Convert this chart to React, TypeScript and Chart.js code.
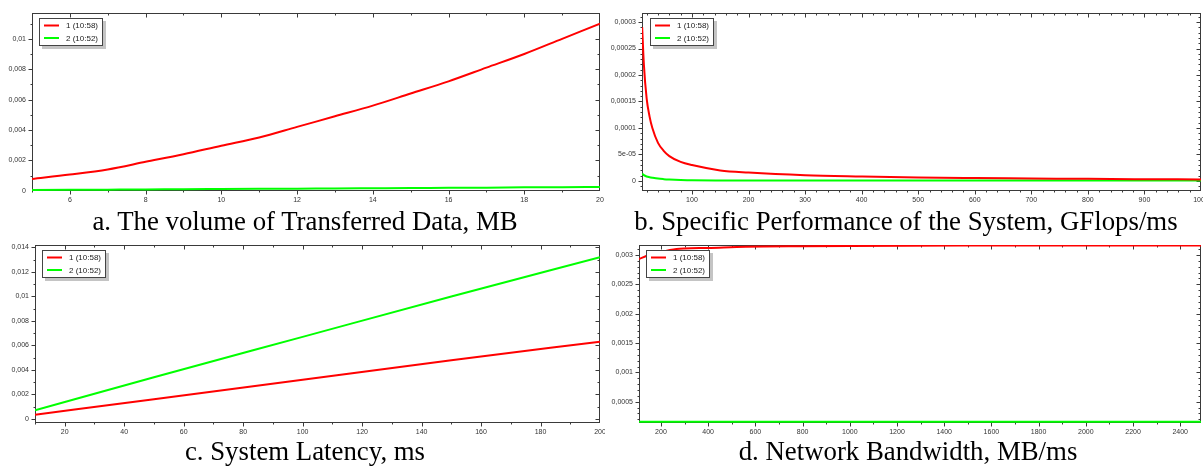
import React, { useEffect, useRef } from 'react';
import { Chart, registerables } from 'chart.js';

Chart.register(...registerables);

const SERIES1 = '1 (10:58)';
const SERIES2 = '2 (10:52)';

// a. The volume of Transferred Data, MB
const aX = [5, 6, 7, 8, 9, 10, 11, 12, 13, 14, 15, 16, 17, 18, 19, 20];
const aRed = [0.00077, 0.00106, 0.0014, 0.0019, 0.0024, 0.00296, 0.0035, 0.0042, 0.0049, 0.0056, 0.0064, 0.0072, 0.0081, 0.009, 0.01, 0.011];
const aGreen = [0.00005, 0.00006, 0.00007, 0.00008, 0.0001, 0.00011, 0.00012, 0.00013, 0.00015, 0.00016, 0.00017, 0.00019, 0.0002, 0.00022, 0.00023, 0.00025];
const aXTicks = [6, 8, 10, 12, 14, 16, 18, 20];
const aYTicks = [0, 0.002, 0.004, 0.006, 0.008, 0.01];

// b. Specific Performance of the System, GFlops/ms
const bX = [12, 15, 20, 25, 30, 40, 50, 60, 80, 100, 150, 200, 300, 400, 500, 600, 700, 800, 900, 1000];
const bRed = [0.00029, 0.00022, 0.000155, 0.000122, 0.0001, 0.000072, 0.000057, 0.000047, 0.000036, 0.00003, 0.00002, 0.000016, 0.000011, 0.0000085, 0.0000065, 0.0000055, 0.0000048, 0.0000040, 0.0000034, 0.0000029];
const bGreen = [0.000014, 0.000011, 0.0000085, 0.0000072, 0.0000062, 0.0000045, 0.0000035, 0.0000028, 0.0000018, 0.0000012, 0.000001, 0.000001, 0.000001, 0.000001, 0.000001, 0.000001, 0.000001, 0.000001, 0.000001, 0.000001];
const bXTicks = [100, 200, 300, 400, 500, 600, 700, 800, 900, 1000];
const bYTicks = [0, 0.00005, 0.0001, 0.00015, 0.0002, 0.00025, 0.0003];

// c. System Latency, ms
const cX = [10, 50, 100, 150, 200];
const cRed = [0.00035, 0.0016, 0.0032, 0.0048, 0.0063];
const cGreen = [0.0007, 0.0034, 0.0067, 0.01, 0.0132];
const cXTicks = [20, 40, 60, 80, 100, 120, 140, 160, 180, 200];
const cYTicks = [0, 0.002, 0.004, 0.006, 0.008, 0.01, 0.012, 0.014];

// d. Network Bandwidth, MB/ms
const dX = [107, 150, 200, 266, 300, 400, 560, 800, 1000, 1500, 2000, 2488];
const dRed = [0.00293, 0.003, 0.00305, 0.0031, 0.00311, 0.00312, 0.00314, 0.00315, 0.003155, 0.00316, 0.00316, 0.00316];
const dGreen = [0.00016, 0.00016, 0.00016, 0.00016, 0.00016, 0.00016, 0.00016, 0.00016, 0.00016, 0.00016, 0.00016, 0.00016];
const dXTicks = [200, 400, 600, 800, 1000, 1200, 1400, 1600, 1800, 2000, 2200, 2400];
const dYTicks = [0.0005, 0.001, 0.0015, 0.002, 0.0025, 0.003];

const captions = [
  'a. The volume of Transferred Data, MB',
  'b. Specific Performance of the System, GFlops/ms',
  'c. System Latency, ms',
  'd. Network Bandwidth, MB/ms',
];

const RED = '#ff0000';
const GREEN = '#00ff00';
const SANS = '"Liberation Sans", Arial, sans-serif';

function fmt(v: number): string {
  if (Math.abs(v) < 1e-12) return '0';
  if (Math.abs(v) < 1e-4) {
    const s = v.toExponential().replace('+', '');
    return s.replace(/e(-?)(\d)$/, 'e$10$2');
  }
  return String(parseFloat(v.toPrecision(10))).replace('.', ',');
}

function minorValues(min: number, max: number, majors: number[], n: number): number[] {
  if (majors.length < 2) return [];
  const step = majors[1] - majors[0];
  const ms = step / n;
  const out: number[] = [];
  let k = Math.ceil(min / ms - 1e-9);
  for (; k * ms <= max + ms * 1e-6; k++) {
    const v = k * ms;
    const r = v / step;
    if (Math.abs(r - Math.round(r)) < 1e-6) continue;
    out.push(v);
  }
  return out;
}

const framePlugin = {
  id: 'frame',
  beforeDatasetsDraw(chart: any, _args: any, o: any) {
    const { ctx, chartArea: ca, scales } = chart;
    const xs = scales.x;
    const ys = scales.y;
    ctx.save();
    ctx.strokeStyle = '#3a3a3a';
    ctx.lineWidth = 1;
    const L = Math.round(ca.left) + 0.5;
    const R = Math.round(ca.right) - 0.5;
    const T = Math.round(ca.top) + 0.5;
    const B = Math.round(ca.bottom) - 0.5;
    ctx.strokeRect(L, T, R - L, B - T);

    const xMaj = xs.ticks.map((t: any) => t.value);
    const yMaj = ys.ticks.map((t: any) => t.value);
    const xMin = minorValues(xs.min, xs.max, xMaj, o.xMinor);
    const yMin = minorValues(ys.min, ys.max, yMaj, o.yMinor);

    ctx.beginPath();
    const xt = (v: number, len: number) => {
      const p = Math.round(xs.getPixelForValue(v)) + 0.5;
      if (p < L - 0.1 || p > R + 0.6) return;
      ctx.moveTo(p, B); ctx.lineTo(p, B + len);
      ctx.moveTo(p, T); ctx.lineTo(p, T + len);
    };
    const yt = (v: number, len: number) => {
      const p = Math.round(ys.getPixelForValue(v)) + 0.5;
      if (p < T - 0.1 || p > B + 0.6) return;
      ctx.moveTo(L, p); ctx.lineTo(L - len, p);
      ctx.moveTo(R, p); ctx.lineTo(R - len, p);
    };
    xMaj.forEach((v: number) => xt(v, 4));
    xMin.forEach((v: number) => xt(v, 2));
    yMaj.forEach((v: number) => yt(v, 4));
    yMin.forEach((v: number) => yt(v, 2));
    ctx.stroke();
    ctx.restore();
  },
  afterDatasetsDraw(chart: any, _args: any, o: any) {
    const { ctx, chartArea: ca } = chart;
    ctx.save();
    const bx = Math.round(ca.left) + o.legendDx;
    const by = Math.round(ca.top) + 5;
    const bw = 64;
    const bh = 28;
    ctx.fillStyle = '#c4c4c4';
    ctx.fillRect(bx + 3, by + 3, bw, bh);
    ctx.fillStyle = '#ffffff';
    ctx.fillRect(bx, by, bw, bh);
    ctx.strokeStyle = '#444';
    ctx.lineWidth = 1;
    ctx.strokeRect(bx + 0.5, by + 0.5, bw - 1, bh - 1);
    const ds = chart.data.datasets;
    ds.forEach((d: any, i: number) => {
      const yy = by + 7.5 + i * 12.5;
      ctx.strokeStyle = d.borderColor;
      ctx.lineWidth = 2;
      ctx.beginPath();
      ctx.moveTo(bx + 5, yy);
      ctx.lineTo(bx + 20, yy);
      ctx.stroke();
      ctx.fillStyle = '#222';
      ctx.font = '8px ' + SANS;
      ctx.textBaseline = 'middle';
      ctx.textAlign = 'left';
      ctx.fillText(d.label, bx + 27, yy + 0.5);
    });
    ctx.restore();
  },
};

type P = {
  x: number[]; red: number[]; green: number[];
  xmin: number; xmax: number; xTicks: number[]; xMinor: number;
  ymin: number; ymax: number; yTicks: number[]; yMinor: number;
  yAxisW: number; padRight: number; legendDx: number;
};

function makeConfig(p: P): any {
  const line = (label: string, color: string, ys: number[]) => ({
    label,
    data: p.x.map((x, i) => ({ x, y: ys[i] })),
    borderColor: color,
    backgroundColor: color,
    borderWidth: 2,
    pointRadius: 0,
    fill: false,
    cubicInterpolationMode: 'monotone',
  });
  const tickFont = { size: 7, family: SANS };
  return {
    type: 'line',
    data: { datasets: [line(SERIES1, RED, p.red), line(SERIES2, GREEN, p.green)] },
    options: {
      responsive: false,
      animation: false,
      events: [],
      layout: { padding: { top: 13, right: p.padRight, left: 0, bottom: 0 } },
      plugins: {
        legend: { display: false },
        tooltip: { enabled: false },
        frame: { xMinor: p.xMinor, yMinor: p.yMinor, legendDx: p.legendDx },
      },
      scales: {
        x: {
          type: 'linear',
          min: p.xmin,
          max: p.xmax,
          afterBuildTicks(s: any) { s.ticks = p.xTicks.map((v) => ({ value: v })); },
          afterFit(s: any) { s.height = 14; s.paddingLeft = 0; s.paddingRight = 0; },
          grid: { display: true, drawOnChartArea: false, drawTicks: true, tickLength: 3, color: 'rgba(0,0,0,0)' },
          border: { display: false },
          ticks: {
            autoSkip: false, maxRotation: 0, minRotation: 0,
            padding: 2, font: tickFont, color: '#333', callback: (v: number) => fmt(v),
          },
        },
        y: {
          type: 'linear',
          min: p.ymin,
          max: p.ymax,
          afterBuildTicks(s: any) { s.ticks = p.yTicks.map((v) => ({ value: v })); },
          afterFit(s: any) { s.width = p.yAxisW; s.paddingTop = 0; s.paddingBottom = 0; },
          grid: { display: true, drawOnChartArea: false, drawTicks: true, tickLength: 3, color: 'rgba(0,0,0,0)' },
          border: { display: false },
          ticks: {
            autoSkip: false,
            padding: 3, font: tickFont, color: '#333', callback: (v: number) => fmt(v),
          },
        },
      },
    },
    plugins: [framePlugin],
  };
}

function Panel({ p, left, top, w }: { p: P; left: number; top: number; w: number }) {
  const ref = useRef<HTMLCanvasElement>(null);
  useEffect(() => {
    const chart = new Chart(ref.current as HTMLCanvasElement, makeConfig(p));
    return () => chart.destroy();
  }, []);
  return (
    <canvas
      ref={ref}
      width={w}
      height={205}
      style={{ position: 'absolute', left, top, width: w, height: 205 }}
    />
  );
}

function Caption({ text, cx, top }: { text: string; cx: number; top: number }) {
  return (
    <div
      style={{
        position: 'absolute', left: cx - 300, top, width: 600, textAlign: 'center',
        fontFamily: '"Liberation Serif", "Times New Roman", serif', fontSize: 26.8,
        lineHeight: '26.8px', color: '#000', whiteSpace: 'nowrap',
      }}
    >
      {text}
    </div>
  );
}

const pa: P = { x: aX, red: aRed, green: aGreen, xmin: 5, xmax: 20, xTicks: aXTicks, xMinor: 2, ymin: -0.00002, ymax: 0.0117, yTicks: aYTicks, yMinor: 2, yAxisW: 32, padRight: 5, legendDx: 7 };
const pb: P = { x: bX, red: bRed, green: bGreen, xmin: 11.7, xmax: 1000, xTicks: bXTicks, xMinor: 5, ymin: -0.0000189, ymax: 0.000317, yTicks: bYTicks, yMinor: 5, yAxisW: 37, padRight: 2, legendDx: 8 };
const pc: P = { x: cX, red: cRed, green: cGreen, xmin: 10, xmax: 200, xTicks: cXTicks, xMinor: 2, ymin: -0.00033, ymax: 0.0142, yTicks: cYTicks, yMinor: 2, yAxisW: 35, padRight: 5, legendDx: 7 };
const pd: P = { x: dX, red: dRed, green: dGreen, xmin: 107, xmax: 2488, xTicks: dXTicks, xMinor: 2, ymin: 0.000138, ymax: 0.00317, yTicks: dYTicks, yMinor: 5, yAxisW: 34, padRight: 2, legendDx: 7 };

export default function App() {
  return (
    <div style={{ position: 'fixed', left: 0, top: 0, width: 1203, height: 467, overflow: 'hidden', background: '#fff' }}>
      <Panel p={pa} left={0} top={0} w={605} />
      <Panel p={pb} left={605} top={0} w={598} />
      <Panel p={pc} left={0} top={232} w={605} />
      <Panel p={pd} left={605} top={232} w={598} />
      <Caption text={captions[0]} cx={305} top={207.5} />
      <Caption text={captions[1]} cx={906} top={207.5} />
      <Caption text={captions[2]} cx={305} top={437.5} />
      <Caption text={captions[3]} cx={908} top={437.5} />
    </div>
  );
}
